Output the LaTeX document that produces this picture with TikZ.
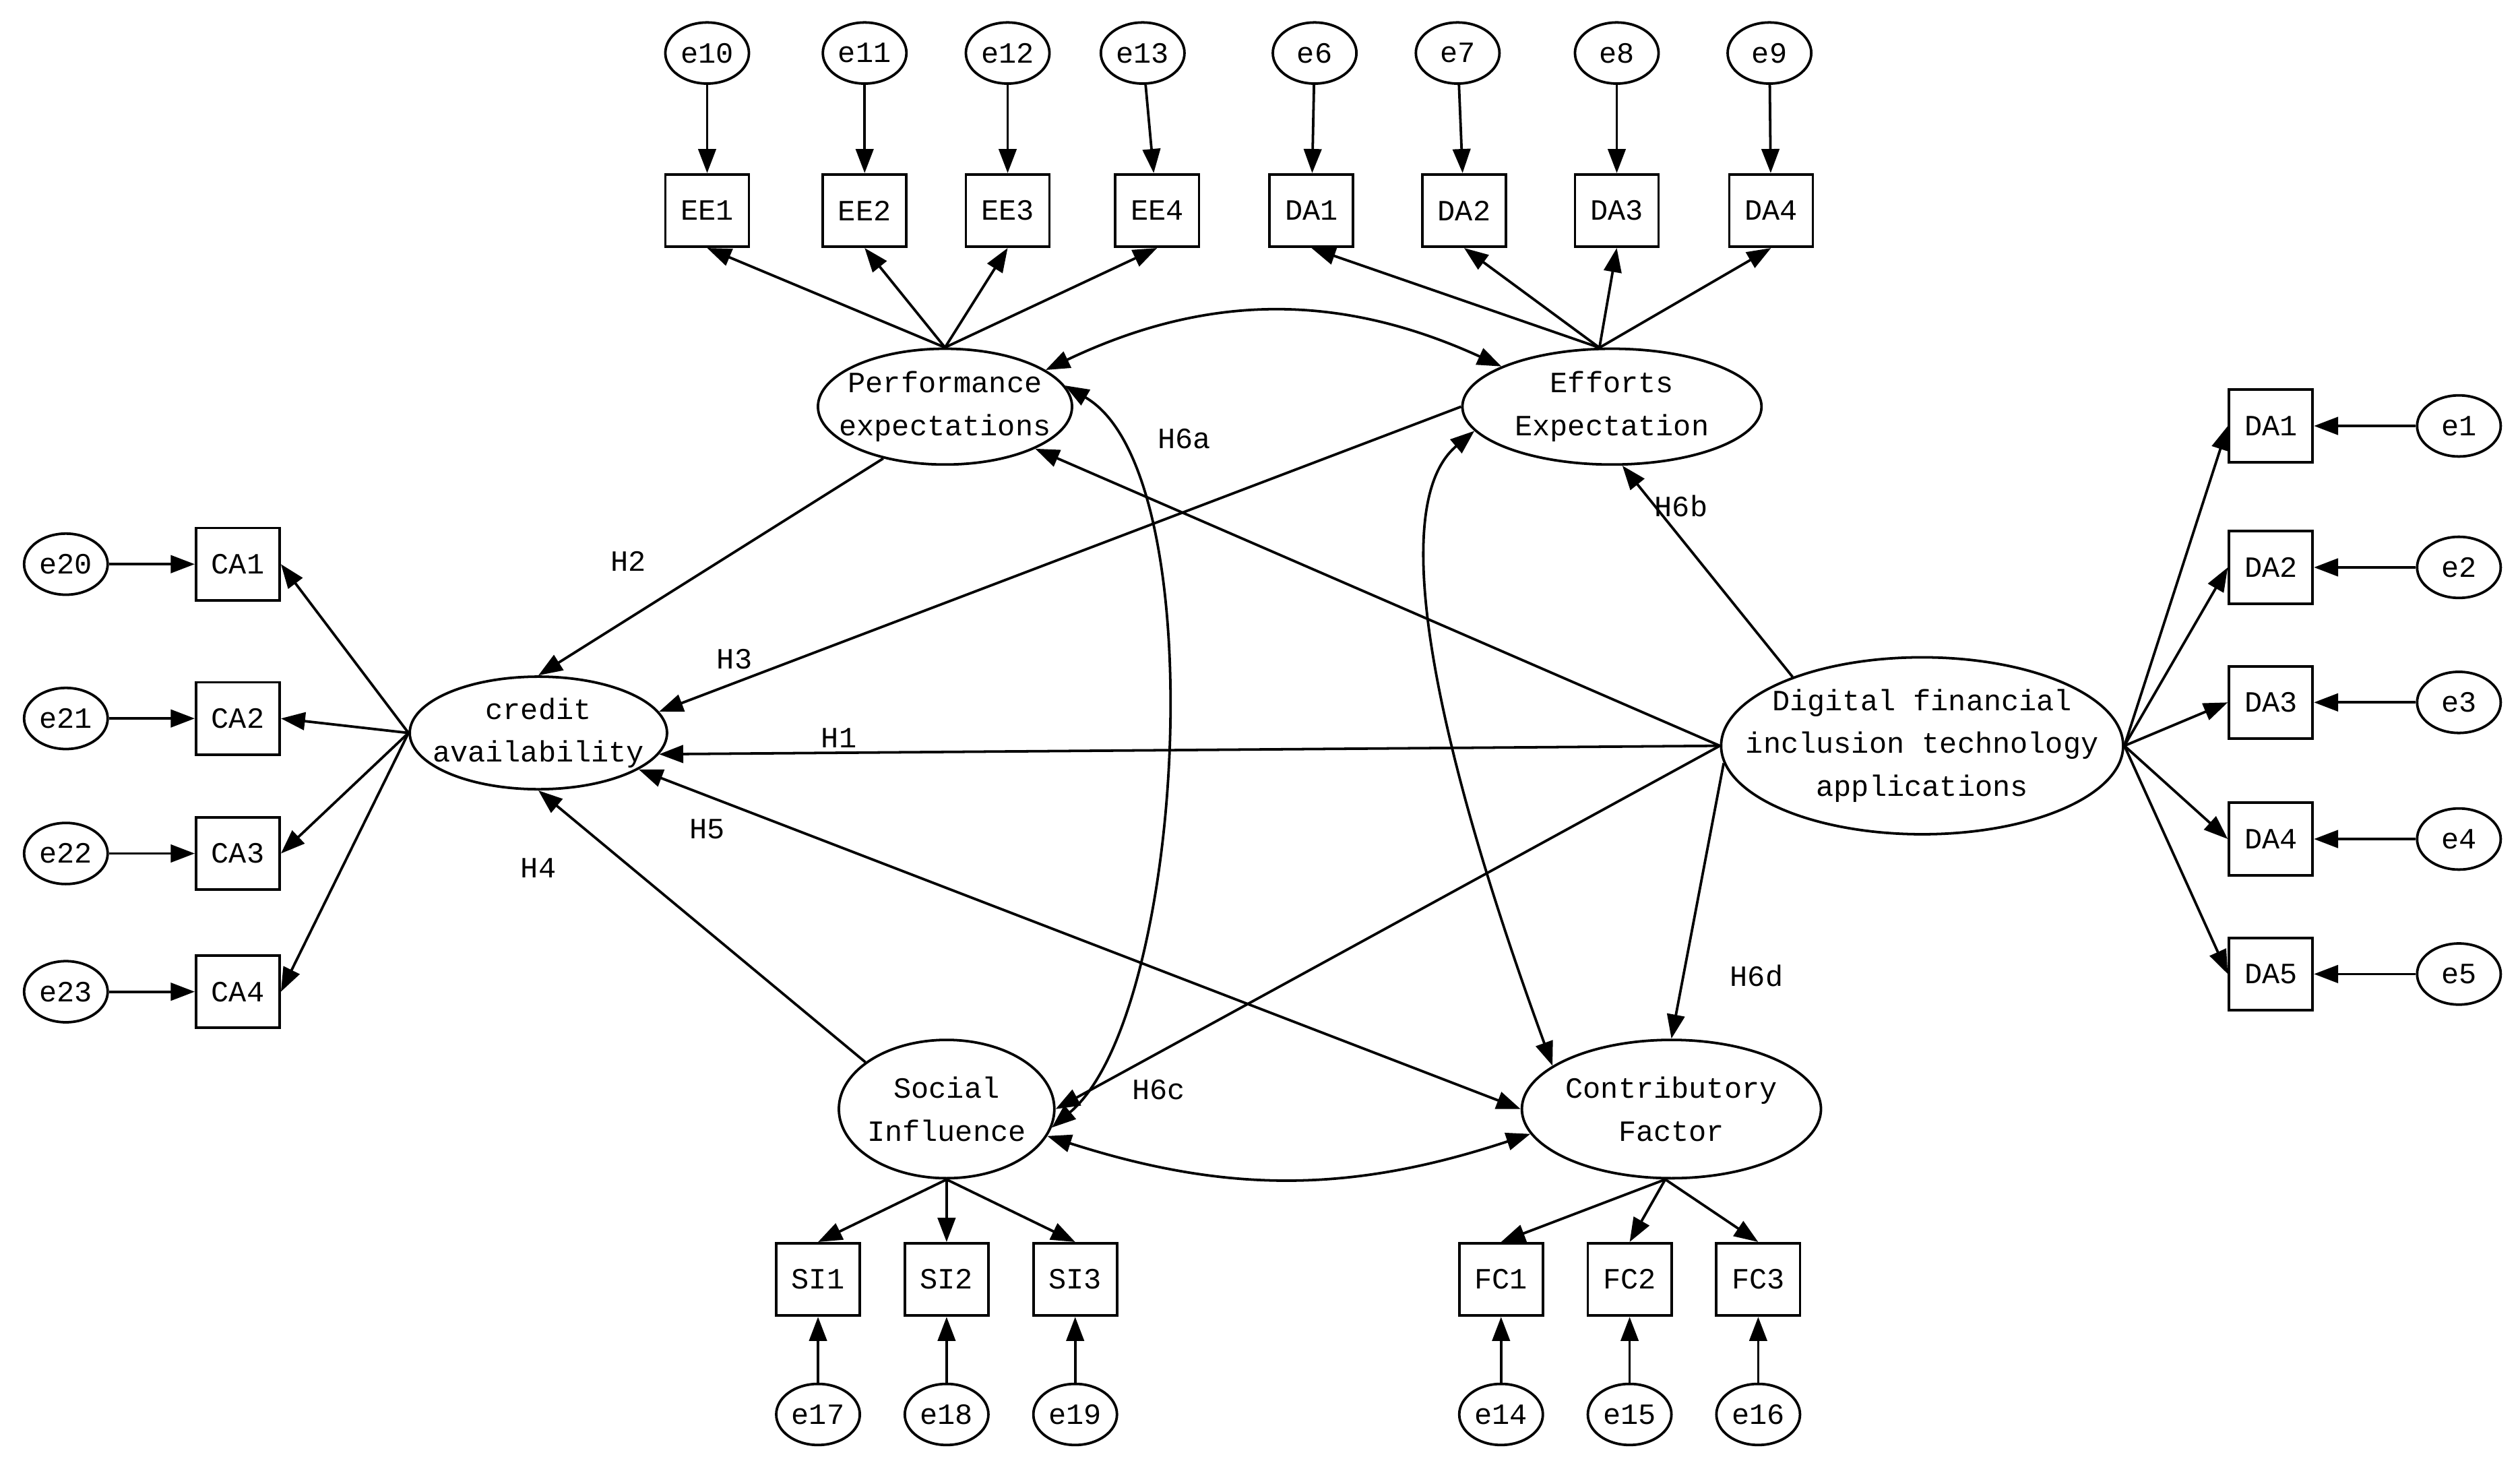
\documentclass[tikz,border=0pt]{standalone}
\usepackage{fontspec}
\setmainfont{Liberation Mono}
\usetikzlibrary{shapes.geometric,arrows.meta}
\begin{document}
\begin{tikzpicture}[x=0.01cm,y=-0.01cm,>={Triangle[length=1.5mm,width=1.1mm]},
  every node/.style={font=\fontsize{5.2}{7.6}\selectfont,align=center,inner sep=0pt},
  err/.style={draw,ellipse,minimum width=0.52cm,minimum height=0.38cm},
  obs/.style={draw,rectangle,minimum width=0.52cm,minimum height=0.45cm},
  lat/.style={draw,ellipse},
  line width=0.45pt]
\useasboundingbox (0,0) rectangle (1568,910);
% latent variables
\node[lat,minimum width=1.58cm,minimum height=0.72cm,label={center:Performance\\expectations}] (pe) at (588,253) {};
\node[lat,minimum width=1.86cm,minimum height=0.72cm,label={center:Efforts\\Expectation}] (ee) at (1003,253) {};
\node[lat,minimum width=1.6cm,minimum height=0.7cm,label={center:credit\\availability}] (ca) at (335,456) {};
\node[lat,minimum width=2.5cm,minimum height=1.1cm,label={center:Digital financial\\inclusion technology\\applications}] (dfi) at (1196,464) {};
\node[lat,minimum width=1.34cm,minimum height=0.86cm,label={center:Social\\Influence}] (si) at (589,690) {};
\node[lat,minimum width=1.86cm,minimum height=0.86cm,label={center:Contributory\\Factor}] (cf) at (1040,690) {};
% top indicators
\foreach \n/\e/\x/\xe in {EE1/e10/440/440,EE2/e11/538/538,EE3/e12/627/627,EE4/e13/720/711}{
  \node[obs] (\n) at (\x,131) {\n};
  \node[err] (\e) at (\xe,33) {\e};
  \draw[->] (\e) -- (\n);
  \draw[->] (pe.north) -- (\n.south);}
\foreach \n/\e/\x/\xe in {DA1/e6/816/818,DA2/e7/911/907,DA3/e8/1006/1006,DA4/e9/1102/1101}{
  \node[obs] (t\n) at (\x,131) {\n};
  \node[err] (\e) at (\xe,33) {\e};
  \draw[->] (\e) -- (t\n);
  \draw[->] (ee.102) -- (t\n.south);}
% left indicators
\foreach \n/\e/\y in {CA1/e20/351,CA2/e21/447,CA3/e22/531,CA4/e23/617}{
  \node[obs] (\n) at (148,\y) {\n};
  \node[err] (\e) at (41,\y) {\e};
  \draw[->] (\e) -- (\n);
  \draw[->] (ca.west) -- (\n.east);}
% right indicators
\foreach \n/\e/\y in {DA1/e1/265,DA2/e2/353,DA3/e3/437,DA4/e4/522,DA5/e5/606}{
  \node[obs] (r\n) at (1413,\y) {\n};
  \node[err] (\e) at (1530,\y) {\e};
  \draw[->] (\e) -- (r\n);
  \draw[->] (dfi.east) -- (r\n.west);}
% bottom indicators
\foreach \n/\e/\x in {SI1/e17/509,SI2/e18/589,SI3/e19/669}{
  \node[obs] (\n) at (\x,796) {\n};
  \node[err] (\e) at (\x,880) {\e};
  \draw[->] (\e) -- (\n);
  \draw[->] (si.south) -- (\n.north);}
\foreach \n/\e/\x in {FC1/e14/934,FC2/e15/1014,FC3/e16/1094}{
  \node[obs] (\n) at (\x,796) {\n};
  \node[err] (\e) at (\x,880) {\e};
  \draw[->] (\e) -- (\n);
  \draw[->] (cf.-95) -- (\n.north);}
% structural paths
\draw[->] (pe.-140) -- (ca.north);
\node at (391,349) {H2};
\draw[->] (ee.west) -- (ca.10);
\node at (457,410) {H3};
\draw[->] (dfi.west) -- (ca.-10);
\node at (522,459) {H1};
\draw[->] (si.150) -- (ca.-90);
\node at (335,540) {H4};
\draw[<->] (cf.west) -- (ca.-20);
\node at (440,516) {H5};
\draw[->] (dfi.west) -- (pe.-25);
\node at (737,273) {H6a};
\draw[->] (dfi.152) -- (ee.-80);
\node at (1046,315) {H6b};
\draw[->] (dfi.west) -- (si.east);
\node at (721,678) {H6c};
\draw[->] (dfi.-175) -- (cf.north);
\node at (1093,607) {H6d};
% covariances
\draw[<->] (pe.20) to[bend left=25] (ee.160);
\draw[<->] (si.-15) to[bend right=18] (cf.-170);
\draw[<->] (pe.10) to[out=-30,in=40,looseness=0.6] (si.-10);
\draw[<->] (ee.-170) to[out=-140,in=110,looseness=0.6] (cf.160);
\end{tikzpicture}
\end{document}
